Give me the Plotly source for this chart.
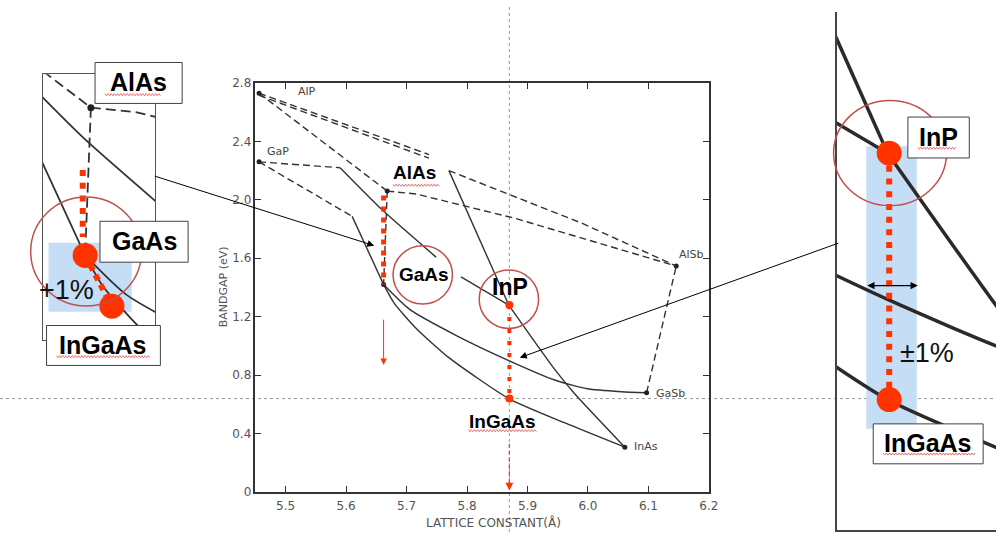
import plotly.graph_objects as go

W, H = 1006, 539

# ---------------- data ----------------
compounds = ["AlP", "GaP", "AlAs", "GaAs", "InP", "AlSb", "GaSb", "InAs"]
lattice_A = [5.456, 5.456, 5.668, 5.662, 5.869, 6.146, 6.097, 6.061]
bandgap_eV = [2.73, 2.26, 2.06, 1.42, 1.28, 1.547, 0.68, 0.307]

x_ticks = [5.5, 5.6, 5.7, 5.8, 5.9, 6.0, 6.1, 6.2]
x_tick_text = ["5.5", "5.6", "5.7", "5.8", "5.9", "6.0", "6.1", "6.2"]
y_ticks = [0, 0.4, 0.8, 1.2, 1.6, 2.0, 2.4, 2.8]
y_tick_text = ["0", "0.4", "0.8", "1.2", "1.6", "2.0", "2.4", "2.8"]

# ternary curves
alp_alsb_a_x = [5.456, 5.737]
alp_alsb_a_y = [2.73, 2.31]
alp_alsb_b_x = [5.456, 5.737]
alp_alsb_b_y = [2.715, 2.285]
alsb_upper_x = [5.770, 5.99, 6.146]
alsb_upper_y = [2.20, 1.84, 1.547]
alp_alas_x = [5.456, 5.668]
alp_alas_y = [2.73, 2.06]
alas_alsb_x = [5.668, 5.716, 5.880, 6.146]
alas_alsb_y = [2.06, 2.04, 1.873, 1.547]
alas_gaas_x = [5.668, 5.662]
alas_gaas_y = [2.06, 1.42]
gap_upper_dash_x = [5.456, 5.590]
gap_upper_dash_y = [2.26, 2.22]
gap_upper_solid_x = [5.590, 5.660, 5.749]
gap_upper_solid_y = [2.22, 1.93, 1.607]
gap_inp_x = [5.790, 5.869]
gap_inp_y = [1.473, 1.28]
gap_lower_dash_x = [5.456, 5.610]
gap_lower_dash_y = [2.26, 1.887]
gap_gaas_x = [5.610, 5.662]
gap_gaas_y = [1.887, 1.42]
steep_x = [5.770, 5.869]
steep_y = [2.20, 1.28]
inp_inas_x = [5.869, 5.945, 5.978, 6.061]
inp_inas_y = [1.28, 0.84, 0.673, 0.307]
gaas_inas_x = [5.662, 5.680, 5.716, 5.770, 5.869, 5.962, 6.061]
gaas_inas_y = [1.42, 1.29, 1.12, 0.92, 0.64, 0.473, 0.307]
gaas_gasb_x = [5.662, 5.705, 5.7815, 5.869, 5.945, 5.999, 6.055, 6.097]
gaas_gasb_y = [1.42, 1.25, 1.073, 0.90, 0.767, 0.707, 0.687, 0.68]
gasb_alsb_x = [6.097, 6.146]
gasb_alsb_y = [0.68, 1.547]

CURVES = [
    (alp_alsb_a_x, alp_alsb_a_y, "dash"),
    (alp_alsb_b_x, alp_alsb_b_y, "dash"),
    (alsb_upper_x, alsb_upper_y, "dash"),
    (alp_alas_x, alp_alas_y, "dash"),
    (alas_alsb_x, alas_alsb_y, "dash"),
    (alas_gaas_x, alas_gaas_y, "dash"),
    (gap_upper_dash_x, gap_upper_dash_y, "dash"),
    (gap_upper_solid_x, gap_upper_solid_y, "curve"),
    (gap_inp_x, gap_inp_y, "solid"),
    (gap_lower_dash_x, gap_lower_dash_y, "dash"),
    (gap_gaas_x, gap_gaas_y, "solid"),
    (steep_x, steep_y, "solid"),
    (inp_inas_x, inp_inas_y, "curve"),
    (gaas_inas_x, gaas_inas_y, "curve"),
    (gaas_gasb_x, gaas_gasb_y, "curve"),
    (gasb_alsb_x, gasb_alsb_y, "dash"),
]

# highlighted values
ingaas_lattice = 5.87
inp_mark_gap = 1.28
ingaas_gap = 0.64
gaas_mark_lattice = 5.662
gaas_dotted_y = [2.03, 1.42]
strain_arrow_y = [1.19, 0.87]
ingaas_arrow_y = [0.33, 0.01]

left_dot_x = [5.662, 5.690]
left_dot_y = [1.42, 1.20]
left_dotted_x = [5.6595, 5.6595]
left_dotted_y = [1.79, 1.50]

right_dot_x = [5.87, 5.87]
right_dot_y = [1.28, 0.64]

# ---------------- helpers ----------------
def px(x):
    return x / W

def py(y):
    return 1 - y / H

RED = "#FF3300"
CIRC = "#C0504D"
BLUE = "#C6DDF6"

fig = go.Figure()


def add_curves(xa, ya, width, color, dash):
    for cx, cy, style in CURVES:
        fig.add_trace(go.Scatter(
            x=cx, y=cy, mode="lines", xaxis=xa, yaxis=ya,
            line=dict(color=color, width=width,
                      dash=dash if style == "dash" else "solid",
                      shape="spline" if style == "curve" else "linear",
                      smoothing=0.6),
            hoverinfo="skip", showlegend=False))


# main chart
add_curves("x", "y", 1.4, "#333", "7px,4px")
fig.add_trace(go.Scatter(x=lattice_A, y=bandgap_eV, mode="markers",
                         marker=dict(color="#222", size=5),
                         hoverinfo="skip", showlegend=False))
fig.add_trace(go.Scatter(x=[gaas_mark_lattice] * 2, y=gaas_dotted_y, mode="lines",
                         line=dict(color=RED, width=5, dash="5px,6px"),
                         hoverinfo="skip", showlegend=False))
fig.add_trace(go.Scatter(x=[ingaas_lattice] * 2, y=[inp_mark_gap, ingaas_gap],
                         mode="lines+markers",
                         line=dict(color=RED, width=4, dash="4px,8px"),
                         marker=dict(color=RED, size=8),
                         hoverinfo="skip", showlegend=False))
fig.add_trace(go.Scatter(x=[ingaas_lattice] * 2, y=[ingaas_arrow_y[0], ingaas_arrow_y[1] + 0.03],
                         mode="lines", line=dict(color=RED, width=1.2, dash="4px,3px"),
                         hoverinfo="skip", showlegend=False))

# left inset
add_curves("x2", "y2", 1.8, "#333", "10px,5px")
fig.add_trace(go.Scatter(x=lattice_A, y=bandgap_eV, mode="markers", xaxis="x2", yaxis="y2",
                         marker=dict(color="#222", size=7),
                         hoverinfo="skip", showlegend=False))
fig.add_trace(go.Scatter(x=left_dotted_x, y=left_dotted_y, mode="lines", xaxis="x2", yaxis="y2",
                         line=dict(color=RED, width=6, dash="6px,6.7px"),
                         hoverinfo="skip", showlegend=False))
fig.add_trace(go.Scatter(x=left_dot_x, y=left_dot_y, mode="lines+markers", xaxis="x2", yaxis="y2",
                         line=dict(color=RED, width=6, dash="6px,5px"),
                         marker=dict(color=RED, size=25),
                         hoverinfo="skip", showlegend=False))

# right inset
add_curves("x3", "y3", 3.5, "#2a2a2a", "10px,5px")
fig.add_trace(go.Scatter(x=right_dot_x, y=right_dot_y, mode="lines+markers", xaxis="x3", yaxis="y3",
                         line=dict(color=RED, width=6, dash="6px,6.7px"),
                         marker=dict(color=RED, size=25),
                         hoverinfo="skip", showlegend=False))

tickfont = dict(family="DejaVu Sans", size=12, color="#555")
fig.update_layout(
    width=W, height=H, autosize=False,
    margin=dict(l=0, r=0, t=0, b=0),
    paper_bgcolor="white", plot_bgcolor="rgba(0,0,0,0)",
    showlegend=False,
    xaxis=dict(domain=[px(258), px(716)], range=[5.45, 6.2],
               tickvals=x_ticks, ticktext=x_tick_text, tickfont=tickfont,
               ticks="inside", ticklen=6, tickcolor="#333", tickwidth=1.2,
               ticklabelstandoff=2,
               showline=True, linecolor="#333", linewidth=1.5, mirror="ticks",
               showgrid=False, zeroline=False, anchor="y"),
    yaxis=dict(domain=[py(498), py(78)], range=[0, 2.8],
               tickvals=y_ticks, ticktext=y_tick_text, tickfont=tickfont,
               ticks="inside", ticklen=6, tickcolor="#333", tickwidth=1.2,
               showline=True, linecolor="#333", linewidth=1.5, mirror="ticks",
               showgrid=False, zeroline=False, anchor="x"),
    xaxis2=dict(domain=[px(43), px(157)], range=[5.6175, 5.7355], anchor="y2",
                showline=True, mirror=True, linecolor="#555", linewidth=1,
                ticks="", showticklabels=False, showgrid=False, zeroline=False),
    yaxis2=dict(domain=[py(342), py(69)], range=[1.053, 2.205], anchor="x2",
                showline=True, mirror=True, linecolor="#555", linewidth=1,
                ticks="", showticklabels=False, showgrid=False, zeroline=False),
    xaxis3=dict(domain=[px(845), 1.0], range=[5.837, 5.937], anchor="y3",
                showline=True, mirror=False, linecolor="#444", linewidth=1.5,
                ticks="", showticklabels=False, showgrid=False, zeroline=False),
    yaxis3=dict(domain=[py(537), py(5)], range=[0.301, 1.647], anchor="x3",
                showline=True, mirror=False, linecolor="#444", linewidth=1.5,
                ticks="", showticklabels=False, showgrid=False, zeroline=False),
)

shapes = []
# guide lines
shapes.append(dict(type="line", xref="x", yref="paper", x0=ingaas_lattice, x1=ingaas_lattice,
                   y0=0, y1=1, line=dict(color="#9a9a9a", width=1, dash="3px,3px"), layer="below"))
shapes.append(dict(type="line", xref="paper", yref="y", x0=0, x1=1, y0=ingaas_gap, y1=ingaas_gap,
                   line=dict(color="#9a9a9a", width=1, dash="3px,3px"), layer="below"))
# blue bands
for (x0, y0, x1, y1) in [(49, 242, 133, 313), (875, 143, 926, 433)]:
    shapes.append(dict(type="rect", xref="paper", yref="paper", x0=px(x0), x1=px(x1),
                       y0=py(y1), y1=py(y0), fillcolor=BLUE, line=dict(width=0), layer="below"))
# circles
for (cx, cy, rx, ry) in [(427, 275, 30, 30), (514, 300, 30, 30), (87, 251, 56, 56), (899, 150, 57, 54)]:
    shapes.append(dict(type="circle", xref="paper", yref="paper",
                       x0=px(cx - rx), x1=px(cx + rx), y0=py(cy + ry), y1=py(cy - ry),
                       line=dict(color=CIRC, width=1.5), layer="above"))
# label boxes
boxes = [
    (96, 57, 184, 99, "AlAs"),
    (101, 220, 190, 262, "GaAs"),
    (47, 327, 162, 368, "InGaAs"),
    (917, 113, 979, 155, "InP"),
    (882, 428, 993, 469, "InGaAs"),
]
for (x0, y0, x1, y1, _) in boxes:
    shapes.append(dict(type="rect", xref="paper", yref="paper", x0=px(x0), x1=px(x1),
                       y0=py(y1), y1=py(y0), fillcolor="white",
                       line=dict(color="#404040", width=1), layer="above"))


def squiggle(x0, x1, y, amp=1.1, step=1.6):
    pts = []
    i = 0
    x = x0
    while x <= x1:
        yy = y + (amp if i % 2 else -amp)
        pts.append(f"{px(x):.5f},{py(yy):.5f}")
        x += step
        i += 1
    return dict(type="path", xref="paper", yref="paper", path="M" + " L".join(pts),
                line=dict(color="#E05050", width=0.8), layer="above")


for (x0, x1, y) in [(397, 445, 183), (473, 543, 435), (106, 163, 90), (57, 152, 359),
                    (927, 967, 145), (892, 985, 459)]:
    shapes.append(squiggle(x0, x1, y))

fig.update_layout(shapes=shapes)

ann = []


def text_at(cx, cy, text, font, **kw):
    d = dict(x=px(cx), y=py(cy), xref="paper", yref="paper", showarrow=False,
             xanchor="center", yanchor="middle", text=text, font=font)
    d.update(kw)
    ann.append(d)


# axis titles
ann.append(dict(x=px(498), y=0, xref="paper", yref="paper", showarrow=False,
                xanchor="center", yanchor="bottom", text="LATTICE CONSTANT(Å)",
                font=dict(family="DejaVu Sans", size=12, color="#555")))
text_at(226, 287, "BANDGAP (eV)", dict(family="DejaVu Sans", size=11, color="#555"), textangle=-90)

# compound labels on the chart
label_offsets = {"AlP": (37, 1.5), "GaP": (6, 10), "AlSb": (1, 12), "GaSb": (7, -1), "InAs": (7, 1)}
for name, lx, ly in zip(compounds, lattice_A, bandgap_eV):
    if name in label_offsets:
        dx, dy = label_offsets[name]
        ann.append(dict(x=lx, y=ly, xref="x", yref="y", text=name, showarrow=False,
                        xanchor="left", yanchor="middle", xshift=dx, yshift=dy,
                        font=dict(family="DejaVu Sans", size=11, color="#444")))

bold = "Liberation Sans, Arial, sans-serif"
# main bold labels
for (cx, cy, t, s) in [(419, 170, "AlAs", 19), (428, 275, "GaAs", 19), (515, 287, "InP", 23),
                       (508, 426, "InGaAs", 19)]:
    text_at(cx, cy, f"<b>{t}</b>", dict(family=bold, size=s, color="black"))
# boxed labels
for (x0, y0, x1, y1, t) in boxes:
    text_at((x0 + x1) / 2, (y0 + y1) / 2 - 1, f"<b>{t}</b>", dict(family=bold, size=25, color="black"))
# percentages
narrow = "Liberation Sans Narrow, Liberation Sans, Arial"
text_at(67, 291, "+1%", dict(family=narrow, size=27, color="#111"))
text_at(936, 355, "±1%", dict(family=narrow, size=27, color="#111"))

# black arrows from insets
ann.append(dict(x=px(378), y=py(245), xref="paper", yref="paper", text="", showarrow=True,
                ax=-221, ay=-70, arrowhead=2, arrowsize=1.4, arrowwidth=1, arrowcolor="black", standoff=0))
ann.append(dict(x=px(525), y=py(360), xref="paper", yref="paper", text="", showarrow=True,
                ax=320, ay=-115, arrowhead=2, arrowsize=1.4, arrowwidth=1, arrowcolor="black", standoff=0))
# double arrow
ann.append(dict(x=px(927), y=py(286), xref="paper", yref="paper", text="", showarrow=True,
                ax=-52, ay=0, arrowhead=2, startarrowhead=2, arrowside="end+start",
                arrowsize=1.2, startarrowsize=1.2, arrowwidth=1.2, arrowcolor="black",
                standoff=0, startstandoff=0))
# red arrows
ann.append(dict(x=gaas_mark_lattice, y=strain_arrow_y[1], xref="x", yref="y",
                axref="x", ayref="y", ax=gaas_mark_lattice, ay=strain_arrow_y[0],
                text="", showarrow=True, arrowhead=2, arrowsize=1.3, arrowwidth=1,
                arrowcolor=RED, standoff=0))
ann.append(dict(x=ingaas_lattice, y=ingaas_arrow_y[1], xref="x", yref="y",
                ax=0, ay=-10, text="", showarrow=True, arrowhead=2, arrowsize=1.3, arrowwidth=1.2,
                arrowcolor=RED, standoff=0))

fig.update_layout(annotations=ann)

fig.write_html("out.html")
